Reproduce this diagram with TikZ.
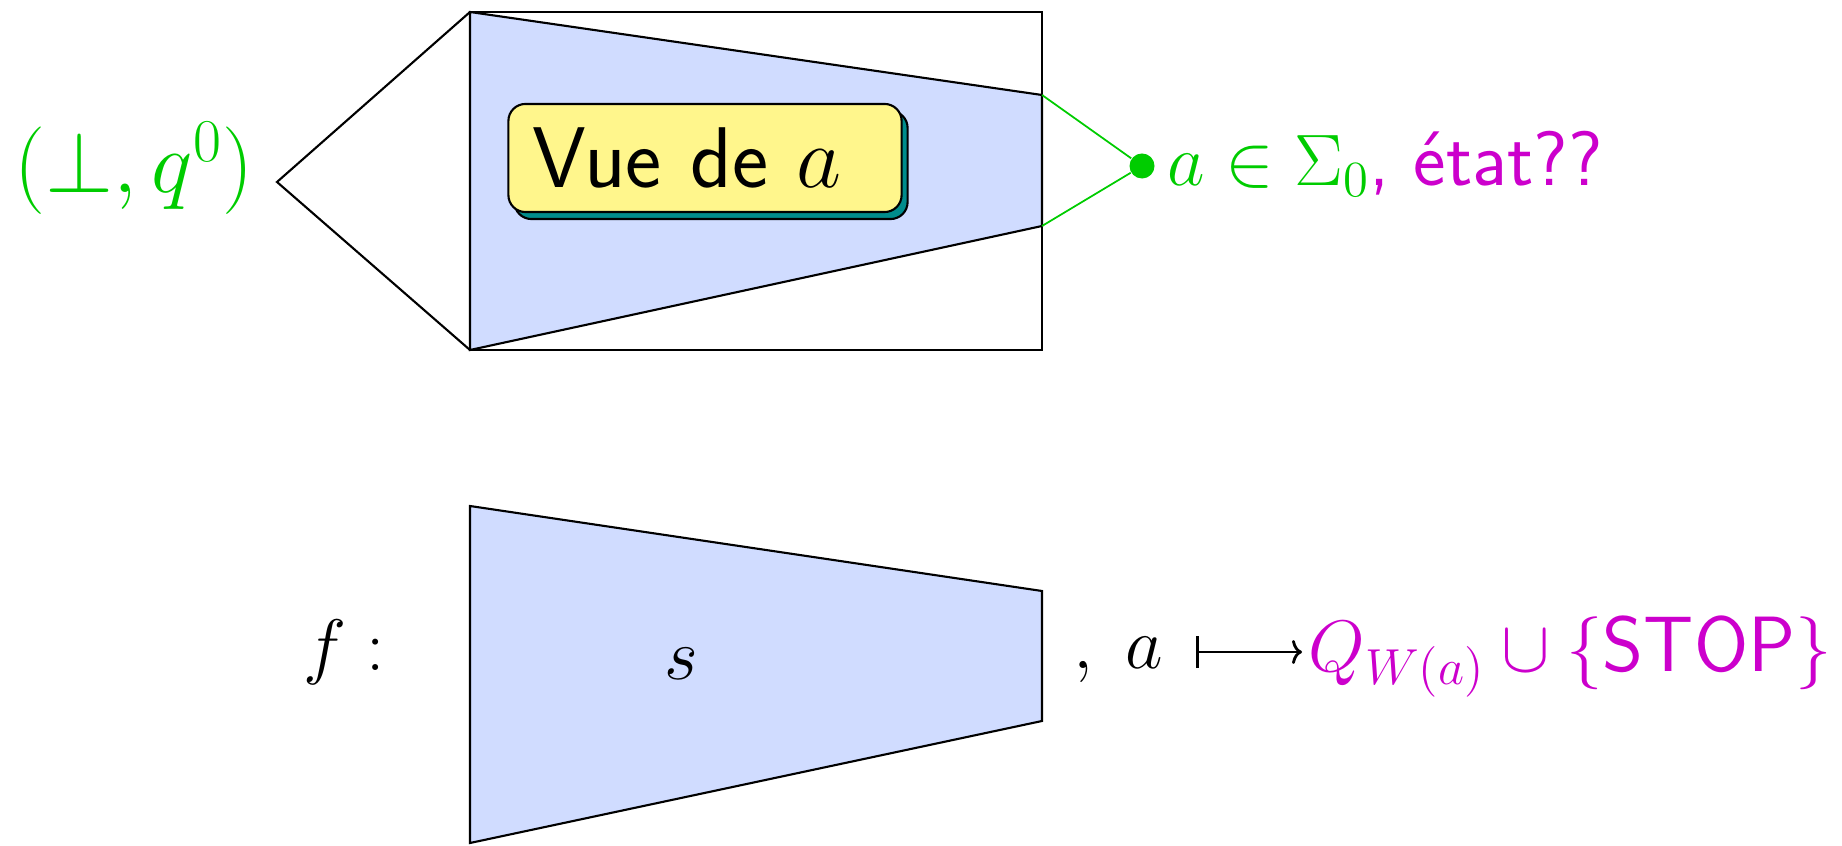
\documentclass[tikz,border=0pt]{standalone}
\usepackage{fontspec}
\usepackage{amsmath}
\usetikzlibrary{shadows,arrows.meta}

\definecolor{vert}{RGB}{0,204,0}
\definecolor{violet2}{RGB}{204,0,204}
\definecolor{bleuvue}{RGB}{208,220,255}
\definecolor{jaune}{RGB}{255,246,140}
\definecolor{sarcelle}{RGB}{0,140,140}

\begin{document}
\begin{tikzpicture}[x=0.01cm, y=-0.01cm,
	font=\fontsize{22}{26}\selectfont\sffamily,
	cone/.style={draw, line width=0.6pt, fill=bleuvue},
	etiquette/.style={inner sep=0pt, anchor=base west}]
\useasboundingbox (0,0) rectangle (1842,846);
% la vue de a
\draw[cone] (470,12) -- (1042,95) -- (1042,226) -- (470,350) -- cycle;
\draw[line width=0.6pt] (470,12) rectangle (1042,350);
\draw[line width=0.6pt] (470,12) -- (277,182) -- (470,350);
\coordinate (haut) at (1042,95);
\coordinate (bas) at (1042,226);
\node[draw, line width=0.6pt, fill=jaune, rounded corners=0.17cm,
	minimum width=3.93cm, minimum height=1.08cm, text width=3.45cm, align=left,
	font=\fontsize{24.5}{28}\selectfont\sffamily,
	copy shadow={shadow xshift=0.06cm, shadow yshift=-0.07cm, fill=sarcelle, draw=black}]
	(vue) at (705,158) {Vue de $a$};
\node[etiquette, text=vert, font=\fontsize{25}{30}\selectfont] (init) at (14,193) {$(\bot, q^0)$};
\node[circle, fill=vert, inner sep=0pt, minimum size=0.25cm] (point) at (1142,166) {};
\draw[vert, line width=0.5pt] (haut) -- (point) -- (bas);
\node[etiquette] (lettre) at (1167,186) {\textcolor{vert}{$a \in \Sigma_0$}\textcolor{violet2}{, état??}};
% la fonction f
\draw[cone] (470,506) -- (1042,591) -- (1042,721) -- (470,843) -- cycle;
\node[etiquette] (f) at (303,670) {$f :$};
\node (s) at (681,664) {$s$};
\node[etiquette] (virg) at (1073,668) {$,\;a$};
\node[etiquette, text=violet2, font=\fontsize{22.3}{27}\selectfont\sffamily] (Q) at (1308,672) {$Q_{W(a)} \cup \{\text{STOP}\}$};
\draw[line width=0.8pt, {Bar[width=0.32cm]}-{To[length=0.1cm, width=0.24cm]}]
	(1196,652) -- (1302,652);
\end{tikzpicture}
\end{document}
